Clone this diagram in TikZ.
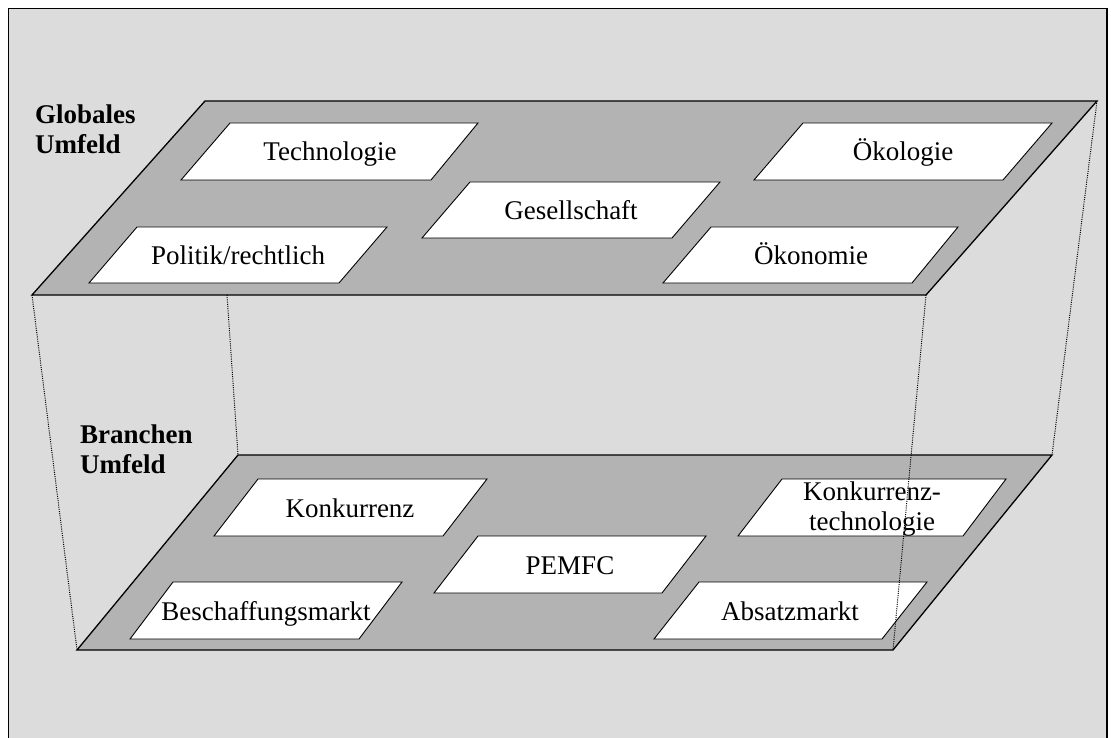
\documentclass[tikz,border=0pt]{standalone}
\usepackage{fontspec}
\setmainfont{Liberation Serif}
\definecolor{bggray}{HTML}{DCDCDC}
\definecolor{planegray}{HTML}{B3B3B3}
\begin{document}
\begin{tikzpicture}[x=1pt,y=-1pt,
  plane/.style={draw=black,line width=1.3pt,fill=planegray,line join=miter},
  field/.style={draw=black,line width=0.9pt,fill=white,line join=miter},
  lbl/.style={font=\fontsize{27}{30}\selectfont,inner sep=0pt,anchor=base},
  title/.style={font=\fontsize{27}{30}\selectfont\bfseries,inner sep=0pt,align=left,anchor=north west},
  guide/.style={line width=1pt,dash pattern=on 1pt off 1.2pt}]
\useasboundingbox (0,0) rectangle (1111,738);
\fill[white] (0,0) rectangle (1111,738);
\fill[bggray] (8.5,8.5) rectangle (1107,738);
\draw[line width=1.3pt] (8.5,740) -- (8.5,8.5) -- (1107,8.5) -- (1107,740);

% plane corners
\coordinate (gTL) at (205,101);
\coordinate (gTR) at (1097,101);
\coordinate (gBR) at (926,295);
\coordinate (gBL) at (32,295);
\coordinate (gM) at (227,295);
\coordinate (bTL) at (238,455);
\coordinate (bTR) at (1052,455);
\coordinate (bBR) at (893,650);
\coordinate (bBL) at (77,650);

% global plane
\draw[plane] (gTL) -- (gTR) -- (gBR) -- (gBL) -- cycle;
\draw[field] (230,123) -- (478,123) -- (431,180) -- (181,180) -- cycle;
\draw[field] (137,227) -- (387,227) -- (339,283) -- (89,283) -- cycle;
\draw[field] (470,182) -- (720,182) -- (672,238) -- (422,238) -- cycle;
\draw[field] (803,123) -- (1052,123) -- (1003,180) -- (754,180) -- cycle;
\draw[field] (711,227) -- (958,227) -- (912,283) -- (663,283) -- cycle;
\node[lbl] (tech) at (330,161) {Technologie};
\node[lbl] (pol) at (238,265) {Politik/rechtlich};
\node[lbl] (ges) at (571,219) {Gesellschaft};
\node[lbl] (oeko) at (903,161) {Ökologie};
\node[lbl] (oekon) at (811,265) {Ökonomie};
\node[title] (glob) at (35,104.5) {Globales\\Umfeld};

% branch plane
\draw[plane] (bTL) -- (bTR) -- (bBR) -- (bBL) -- cycle;
\draw[field] (258,479) -- (487,479) -- (443,536) -- (214,536) -- cycle;
\draw[field] (173,582) -- (402,582) -- (359,639) -- (130,639) -- cycle;
\draw[field] (478,536) -- (706,536) -- (662,593) -- (434,593) -- cycle;
\draw[field] (782,479) -- (1006,479) -- (963,536) -- (738,536) -- cycle;
\draw[field] (699,582) -- (927,582) -- (882,639) -- (654,639) -- cycle;
\node[lbl] (konk) at (350,517) {Konkurrenz};
\node[lbl] (besch) at (266,620) {Beschaffungsmarkt};
\node[lbl] (pem) at (570,574) {PEMFC};
\node[font=\fontsize{27}{30}\selectfont,inner sep=0pt,align=center,anchor=north] (konkt) at (872,481.6) {Konkurrenz-\\technologie};
\node[lbl] (absatz) at (790,620) {Absatzmarkt};
\node[title] (bran) at (80,424.5) {Branchen\\Umfeld};

% guide lines
\draw[guide] (gBL) -- (bBL);
\draw[guide] (gM) -- (bTL);
\draw[guide] (gBR) -- (bBR);
\draw[guide] (gTR) -- (bTR);
\end{tikzpicture}
\end{document}
